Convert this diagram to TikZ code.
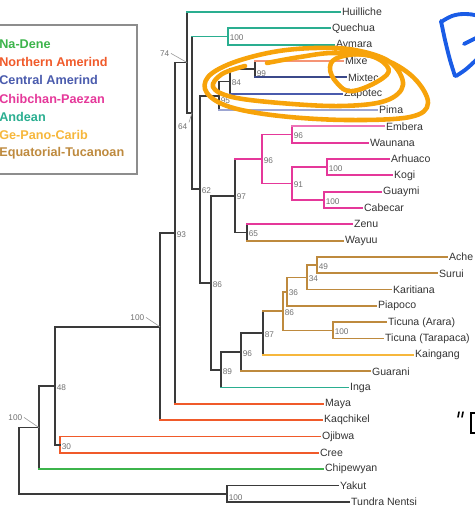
\documentclass[tikz,border=0pt]{standalone}
\usepackage{fontspec}
\setmainfont{Liberation Sans}
\usetikzlibrary{calc}

\definecolor{nadene}{HTML}{3CB44B}
\definecolor{northern}{HTML}{F05A2A}
\definecolor{central}{HTML}{4A5BAD}
\definecolor{chibchan}{HTML}{E5389A}
\definecolor{andean}{HTML}{2AAE90}
\definecolor{gepano}{HTML}{F6B73C}
\definecolor{equatorial}{HTML}{BE8A3E}
\definecolor{branch}{HTML}{3A3A3A}
\definecolor{tiptext}{HTML}{333333}
\definecolor{support}{HTML}{707070}
\definecolor{marker}{HTML}{F7A30A}
\definecolor{inkblue}{HTML}{1A5CE6}

\tikzset{
	fork/.style={inner sep=0pt, outer sep=0pt, minimum size=0pt},
	leaf/.style={anchor=west, inner sep=1pt, text=tiptext, font=\fontsize{6}{7}\selectfont},
	boot/.style={anchor=west, inner sep=0.8pt, yshift=-0.8pt, text=support, font=\fontsize{4.7}{5}\selectfont},
	legendtext/.style={anchor=west, inner sep=0pt, font=\bfseries\fontsize{7.2}{8}\selectfont},
	twig/.style={line width=1pt, line cap=rect},
	lead/.style={support!70, line width=0.35pt},
	pen/.style={line width=2.6pt, line cap=round, line join=round},
}

\begin{document}
\begin{tikzpicture}[x=0.02cm, y=-0.02cm]
	\def\dy{16.33};
	\def\ytop{12};

	\useasboundingbox (0,0) rectangle (475,507);

	% legend
	\draw[support!80, line width=0.6pt] (-2,25) rectangle (137,174);
	\foreach \txt/\col [count=\i from 0] in {Na-Dene/nadene, Northern Amerind/northern, Central Amerind/central, Chibchan-Paezan/chibchan, Andean/andean, Ge-Pano-Carib/gepano, Equatorial-Tucanoan/equatorial}
		\node[legendtext, text=\col] (key\i) at (-1,{44+18.2*\i}) {\txt};

	% leaves, top to bottom
	\foreach \nm/\xe/\txt [count=\i from 0] in {huilliche/340/Huilliche, quechua/330/Quechua, aymara/334/Aymara, mixe/343/Mixe, mixtec/346/Mixtec, zapotec/342/Zapotec, pima/377/Pima, embera/384/Embera, waunana/368/Waunana, arhuaco/389/Arhuaco, kogi/392/Kogi, guaymi/381/Guaymi, cabecar/362/Cabecar, zenu/352/Zenu, wayuu/343/Wayuu, ache/447/Ache, surui/437/Surui, karitiana/391/Karitiana, piapoco/376/Piapoco, arara/386/Ticuna (Arara), tarapaca/383/Ticuna (Tarapaca), kaingang/413/Kaingang, guarani/370/Guarani, inga/348/Inga, maya/323/Maya, kaqchikel/322/Kaqchikel, ojibwa/320/Ojibwa, cree/318/Cree, chipewyan/323/Chipewyan, yakut/338/Yakut, nentsi/349/Tundra Nentsi}
		\node[leaf] (\nm) at (\xe,{\ytop+\dy*\i}) {\txt};

	% forks
	\node[fork] (root) at (19,460.7) {};
	\node[fork] (n100r) at (39,427.6) {};
	\node[fork] (n48) at (55,385.8) {};
	\node[fork] (noc) at (60,444.9) {};
	\node[fork] (n100a) at (160,326.8) {};
	\node[fork] (n93) at (175,233.2) {};
	\node[fork] (n74) at (187,62.5) {};
	\node[fork] (n64) at (192,112.9) {};
	\node[fork] (nqa) at (228,36.5) {};
	\node[fork] (n62) at (200,189.3) {};
	\node[fork] (n95) at (219,95.7) {};
	\node[fork] (n84) at (230,81.4) {};
	\node[fork] (n99) at (255,69.2) {};
	\node[fork] (n86) at (211,282.8) {};
	\node[fork] (n97) at (235,195.7) {};
	\node[fork] (nchib) at (262,159) {};
	\node[fork] (new) at (292,134.5) {};
	\node[fork] (n91) at (292,183.5) {};
	\node[fork] (nak) at (327,167.2) {};
	\node[fork] (ngc) at (324,199.8) {};
	\node[fork] (nzw) at (247,232.5) {};
	\node[fork] (n89) at (221,370) {};
	\node[fork] (n96) at (241,352.2) {};
	\node[fork] (n87) at (263,333) {};
	\node[fork] (n86b) at (283,311.1) {};
	\node[fork] (n36) at (287,291.7) {};
	\node[fork] (n34) at (307,277.4) {};
	\node[fork] (nas) at (317,265.2) {};
	\node[fork] (nticuna) at (333,330.5) {};
	\node[fork] (nyt) at (227,493.9) {};

	% vertical bars
	\foreach \pa/\up/\lo/\col in {root/n100r/nyt/branch, n100r/n48/chipewyan/branch, n48/n100a/noc/branch, noc/ojibwa/cree/northern, n100a/n93/kaqchikel/branch, n93/n74/maya/branch, n74/huilliche/n64/branch, n64/nqa/n62/branch, nqa/quechua/aymara/andean, n62/n95/n86/branch, n95/n84/pima/branch, n84/n99/zapotec/branch, n99/mixe/mixtec/branch, n86/n97/n89/branch, n97/nchib/nzw/branch, nchib/new/n91/chibchan, new/embera/waunana/chibchan, n91/nak/ngc/chibchan, nak/arhuaco/kogi/chibchan, ngc/guaymi/cabecar/chibchan, nzw/zenu/wayuu/branch, n89/n96/inga/branch, n96/n87/guarani/branch, n87/n86b/kaingang/branch, n86b/n36/nticuna/equatorial, n36/n34/piapoco/equatorial, n34/nas/karitiana/equatorial, nas/ache/surui/equatorial, nticuna/arara/tarapaca/equatorial, nyt/yakut/nentsi/branch}
		\draw[twig, \col] (\pa |- \up.west) -- (\pa |- \lo.west);

	% horizontal branches
	\foreach \pa/\ch/\col in {root/n100r/branch, root/nyt/branch, n100r/n48/branch, n100r/chipewyan/nadene, n48/n100a/branch, n48/noc/branch, noc/ojibwa/northern, noc/cree/northern, n100a/n93/branch, n100a/kaqchikel/northern, n93/n74/branch, n93/maya/northern, n74/huilliche/andean, n74/n64/branch, n64/nqa/andean, n64/n62/branch, nqa/quechua/andean, nqa/aymara/andean, n62/n95/branch, n62/n86/branch, n95/n84/branch, n95/pima/central!55!white, n84/n99/branch, n84/zapotec/central, n99/mixe/northern!65!white, n99/mixtec/central!80!black, n86/n97/branch, n86/n89/branch, n97/nchib/chibchan, n97/nzw/branch, nchib/new/chibchan, nchib/n91/chibchan, new/embera/chibchan!70!white, new/waunana/chibchan, n91/nak/chibchan, n91/ngc/chibchan, nak/arhuaco/chibchan, nak/kogi/chibchan, ngc/guaymi/chibchan, ngc/cabecar/chibchan, nzw/zenu/chibchan, nzw/wayuu/equatorial, n89/n96/branch, n89/inga/andean, n96/n87/branch, n96/guarani/equatorial, n87/n86b/equatorial, n87/kaingang/gepano, n86b/n36/equatorial, n86b/nticuna/equatorial, n36/n34/equatorial, n36/piapoco/equatorial, n34/nas/equatorial, n34/karitiana/equatorial, nas/ache/equatorial, nas/surui/equatorial, nticuna/arara/equatorial, nticuna/tarapaca/equatorial, nyt/yakut/branch, nyt/nentsi/branch}
		\draw[twig, \col] (\ch.west -| \pa) -- (\ch.west);

	% bootstrap values
	\foreach \n/\v in {nqa/100, n84/84, n62/62, n86/86, n97/97, nchib/96, new/96, n91/91, nak/100, ngc/100, nzw/65, nas/49, n34/34, n36/36, n86b/86, nticuna/100, n87/87, n96/96, n89/89, n93/93, n48/48, noc/30}
		\node[boot] (b\n) at (\n) {\v};
	\node[boot, yshift=-1.6pt] (bn99) at (n99) {99};
	\node[boot, yshift=-1.8pt] (bn95) at (n95) {95};
	\node[boot, yshift=-1.6pt] (bnyt) at (nyt) {100};

	\node[boot, anchor=east] (bn74) at (171,52) {74};
	\draw[lead] (bn74.east) -- (n74);
	\node[boot, anchor=north east] (bn64) at (189,121) {64};
	\draw[lead] (bn64.north east) -- (n64);
	\node[boot, anchor=east] (bn100a) at (146,316) {100};
	\draw[lead] (bn100a.east) -- (n100a);
	\node[boot, anchor=east] (bn100r) at (24,416) {100};
	\draw[lead] (bn100r.east) -- (n100r);

	% hand marks
	\draw[pen, marker] plot[smooth, tension=0.6] coordinates {(267,63) (300,57) (335,53) (380,58) (413,77) (428,103) (410,117) (347,120) (280,116) (230,107) (207,93) (208,77) (232,63) (273,52) (315,48) (355,50) (390,62) (403,85) (385,101) (340,106) (280,103) (232,97) (213,87) (222,74) (245,66)};
	\draw[pen, marker] plot[smooth cycle, tension=0.7] coordinates {(340,57) (367,55) (387,66) (383,78) (353,91) (337,83) (330,67)};
	\draw[pen, inkblue, line width=2.2pt] plot[smooth, tension=0.5] coordinates {(441,21) (445,40) (450,60) (455,76)};
	\draw[pen, inkblue, line width=2.2pt] plot[smooth, tension=0.6] coordinates {(441,22) (452,16) (464,14) (478,16) (490,24)};
	\draw[pen, inkblue, line width=2.2pt] plot[smooth, tension=0.6] coordinates {(464,44) (472,40) (484,34)};
	\draw[pen, inkblue, line width=2.2pt] plot[smooth, tension=0.6] coordinates {(484,52) (474,62) (465,70) (456,76)};
	\draw[line width=0.9pt, line cap=round] (459,412) -- (458,417) (463,412) -- (462,417);
	\draw[line width=0.9pt] (477,413) -- (471,413) -- (471,433) -- (477,433);
\end{tikzpicture}
\end{document}
